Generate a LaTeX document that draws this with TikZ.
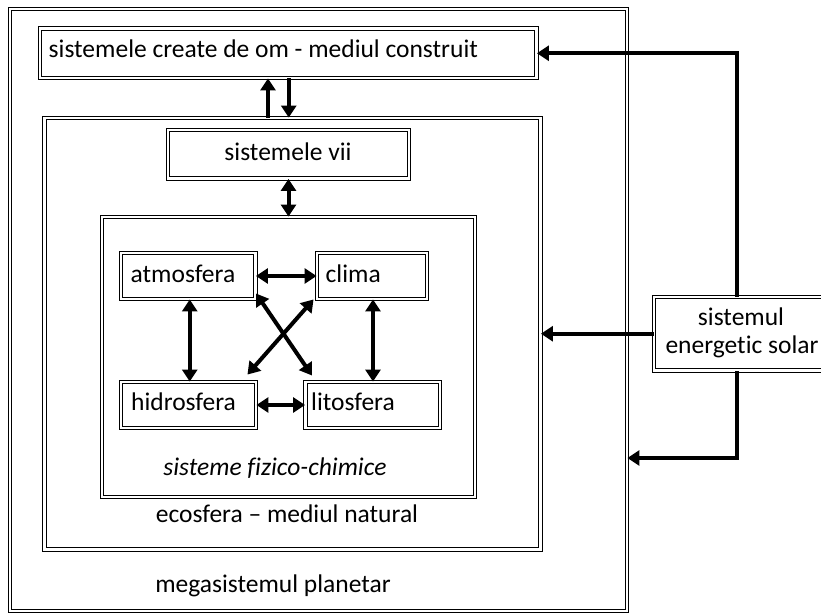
\documentclass[tikz,border=0pt]{standalone}
\usepackage{fontspec}
\setmainfont{Carlito}[Ligatures=NoCommon]
\usetikzlibrary{arrows.meta}
\begin{document}
\begin{tikzpicture}[x=1pt,y=-1pt,
  every node/.style={font=\fontsize{25.5}{28}\selectfont},
  dbox/.style={draw, double, double distance=2.6pt, line width=0.9pt, inner sep=0pt},
  txt/.style={inner sep=0pt, anchor=base west},
  ctxt/.style={inner sep=0pt, anchor=base},
  arr/.style={line width=4.2pt, -{Triangle[length=12pt,width=15pt]}},
  darr/.style={line width=4pt, {Triangle[length=12pt,width=15pt]}-{Triangle[length=12pt,width=15pt]}}]
\useasboundingbox (0,0) rectangle (821,615);

% boxes
\node[dbox, minimum width=617pt, minimum height=602pt] (mega) at (318.5,310) {};
\node[dbox, minimum width=496pt, minimum height=431.5pt] (eco) at (292.5,333.75) {};
\node[dbox, minimum width=373pt, minimum height=280pt] (fiz) at (288.5,357) {};
\node[dbox, minimum width=496.5pt, minimum height=49.5pt] (top) at (288.25,53.25) {};
\node[dbox, minimum width=241pt, minimum height=48.5pt] (vii) at (288.5,154.25) {};
\node[dbox, minimum width=134.5pt, minimum height=46pt] (atm) at (188.25,276) {};
\node[dbox, minimum width=110pt, minimum height=46pt] (clima) at (372,276) {};
\node[dbox, minimum width=135pt, minimum height=46pt] (hidro) at (188.5,405) {};
\node[dbox, minimum width=134.5pt, minimum height=46pt] (lito) at (372.75,405) {};
\node[dbox, minimum width=174pt, minimum height=73.5pt] (solar) at (741,333.75) {};

% texts
\node[txt] (ttop) at (48.5,57.7) {sistemele create de om - mediul construit};
\node[ctxt] (tvii) at (288,160) {sistemele vii};
\node[txt] (tatm) at (130.5,282) {atmosfera};
\node[txt] (tclima) at (325.5,282) {clima};
\node[txt] (thidro) at (131,410) {hidrosfera};
\node[txt] (tlito) at (311,410) {litosfera};
\node[ctxt] (tsol1) at (741,325) {sistemul};
\node[ctxt] (tsol2) at (742,353) {energetic solar};
\node[ctxt] (lfiz) at (275,475) {\itshape sisteme fizico-chimice};
\node[ctxt] (leco) at (287,522) {ecosfera – mediul natural};
\node[ctxt] (lmega) at (273,592) {megasistemul planetar};

% top <-> eco
\coordinate (u1) at ([xshift=-24.5pt]eco.north);
\coordinate (d1) at ([xshift=0.5pt]top.south);
\draw[arr] (u1) -- (u1 |- top.south);
\draw[arr] (d1) -- (d1 |- eco.north);
\draw[darr] (vii.south) -- (fiz.north);

% inner arrows
\draw[darr] (atm.east) -- (clima.west);
\draw[darr] (hidro.east) -- (lito.west);
\draw[darr] ([xshift=1.5pt]atm.south) -- ([xshift=1.5pt]atm.south |- hidro.north);
\draw[darr] ([xshift=1pt]clima.south) -- ([xshift=1pt]clima.south |- lito.north);
\draw[darr] ([yshift=6pt]atm.south east) -- ([shift={(7pt,6pt)}]lito.north west);
\draw[darr] ([xshift=-3pt]clima.south west) -- ([shift={(-9pt,7pt)}]hidro.north east);

% solar arrows
\draw[arr] ([xshift=-4pt]solar.north) |- (top.east);
\draw[arr] (solar.west) -- (eco.east);
\coordinate (m3) at ([yshift=-148pt]mega.east);
\draw[arr] ([xshift=-4pt]solar.south) |- (m3);
\end{tikzpicture}
\end{document}
